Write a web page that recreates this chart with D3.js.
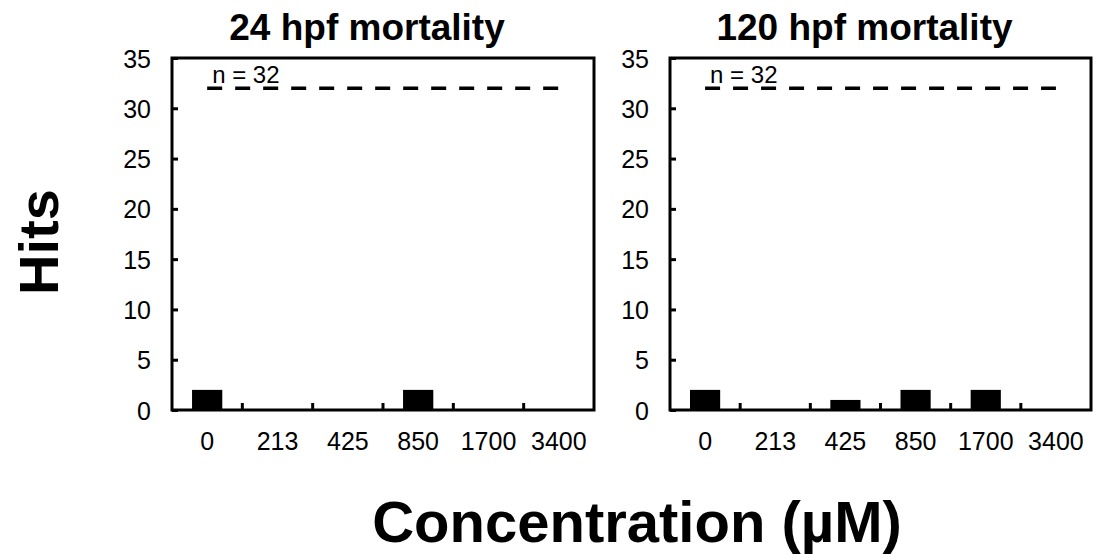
<!DOCTYPE html>
<html>
<head>
<meta charset="utf-8">
<script src="https://cdn.jsdelivr.net/npm/d3@7"></script>
<style>
  html, body { margin: 0; padding: 0; background: #fff; }
  svg text { font-family: Arial, 'Liberation Sans', sans-serif; fill: #000; }
</style>
</head>
<body>
<div id="chart"></div>
<script>
// concentrations (µM)
const concentrations = ['0', '213', '425', '850', '1700', '3400'];
// hits per concentration
const mortality24 = [2, 0, 0, 2, 0, 0];
const mortality120 = [2, 0, 1, 2, 2, 0];
const panelTitles = ['24 hpf mortality', '120 hpf mortality'];
const yTicks = [0, 5, 10, 15, 20, 25, 30, 35];
const nTotal = 32;

const width = 1093;
const height = 554;

const svg = d3.select('#chart').append('svg')
  .attr('width', width)
  .attr('height', height);

const panels = [
  { title: panelTitles[0], values: mortality24, x0: 172, x1: 594 },
  { title: panelTitles[1], values: mortality120, x0: 670, x1: 1091 }
];

const y = d3.scaleLinear().domain([0, 35]).range([410, 58]);

panels.forEach((p) => {
  const g = svg.append('g');
  const x = d3.scaleBand().domain(concentrations).range([p.x0, p.x1]).padding(0);
  const barW = x.bandwidth() * 0.43;

  // bars
  g.selectAll('rect.bar')
    .data(p.values.map((v, i) => ({ c: concentrations[i], v })))
    .join('rect')
    .attr('class', 'bar')
    .attr('x', d => x(d.c) + (x.bandwidth() - barW) / 2)
    .attr('width', barW)
    .attr('y', d => y(d.v))
    .attr('height', d => y(0) - y(d.v))
    .attr('fill', '#000');

  // y axis, ticks pointing inward
  const yAxis = d3.axisLeft(y).tickValues(yTicks).tickSize(-6).tickPadding(21);
  const ya = g.append('g').attr('transform', `translate(${p.x0},0)`).call(yAxis);
  ya.select('.domain').remove();
  ya.selectAll('line').attr('stroke', '#000').attr('stroke-width', 3);
  ya.selectAll('text').attr('font-size', 25).attr('dy', '0.36em');

  // x tick labels under category centres
  const xAxis = d3.axisBottom(x).tickSize(0).tickPadding(0);
  const xa = g.append('g').attr('transform', `translate(0,${y(0)})`).call(xAxis);
  xa.select('.domain').remove();
  xa.selectAll('text').attr('font-size', 25).attr('dy', null).attr('y', 40);

  // x ticks at category boundaries, pointing up
  g.selectAll('line.xtick')
    .data(concentrations.slice(1))
    .join('line')
    .attr('class', 'xtick')
    .attr('x1', d => x(d)).attr('x2', d => x(d))
    .attr('y1', y(0)).attr('y2', y(0) - 7)
    .attr('stroke', '#000').attr('stroke-width', 3);

  // frame
  g.append('rect')
    .attr('x', p.x0).attr('y', y(35))
    .attr('width', p.x1 - p.x0).attr('height', y(0) - y(35))
    .attr('fill', 'none').attr('stroke', '#000').attr('stroke-width', 3);

  // n reference line
  const cx0 = x(concentrations[0]) + x.bandwidth() / 2;
  const cx1 = x(concentrations[concentrations.length - 1]) + x.bandwidth() / 2;
  g.append('line')
    .attr('x1', cx0).attr('x2', cx1)
    .attr('y1', y(nTotal)).attr('y2', y(nTotal))
    .attr('stroke', '#000').attr('stroke-width', 3.5)
    .attr('stroke-dasharray', '15,13');
  g.append('text')
    .attr('x', cx0 + 5).attr('y', y(nTotal) - 5)
    .attr('font-size', 24)
    .text(`n = ${nTotal}`);

  // title
  g.append('text')
    .attr('x', (p.x0 + p.x1) / 2 - 16).attr('y', 40)
    .attr('text-anchor', 'middle')
    .attr('font-size', 37).attr('font-weight', 'bold')
    .text(p.title);
});

// axis titles
svg.append('text')
  .attr('transform', 'translate(58,242) rotate(-90)')
  .attr('text-anchor', 'middle')
  .attr('font-size', 56).attr('font-weight', 'bold')
  .text('Hits');

svg.append('text')
  .attr('x', 637).attr('y', 542)
  .attr('text-anchor', 'middle')
  .attr('font-size', 58).attr('font-weight', 'bold')
  .text('Concentration (µM)');
</script>
</body>
</html>
